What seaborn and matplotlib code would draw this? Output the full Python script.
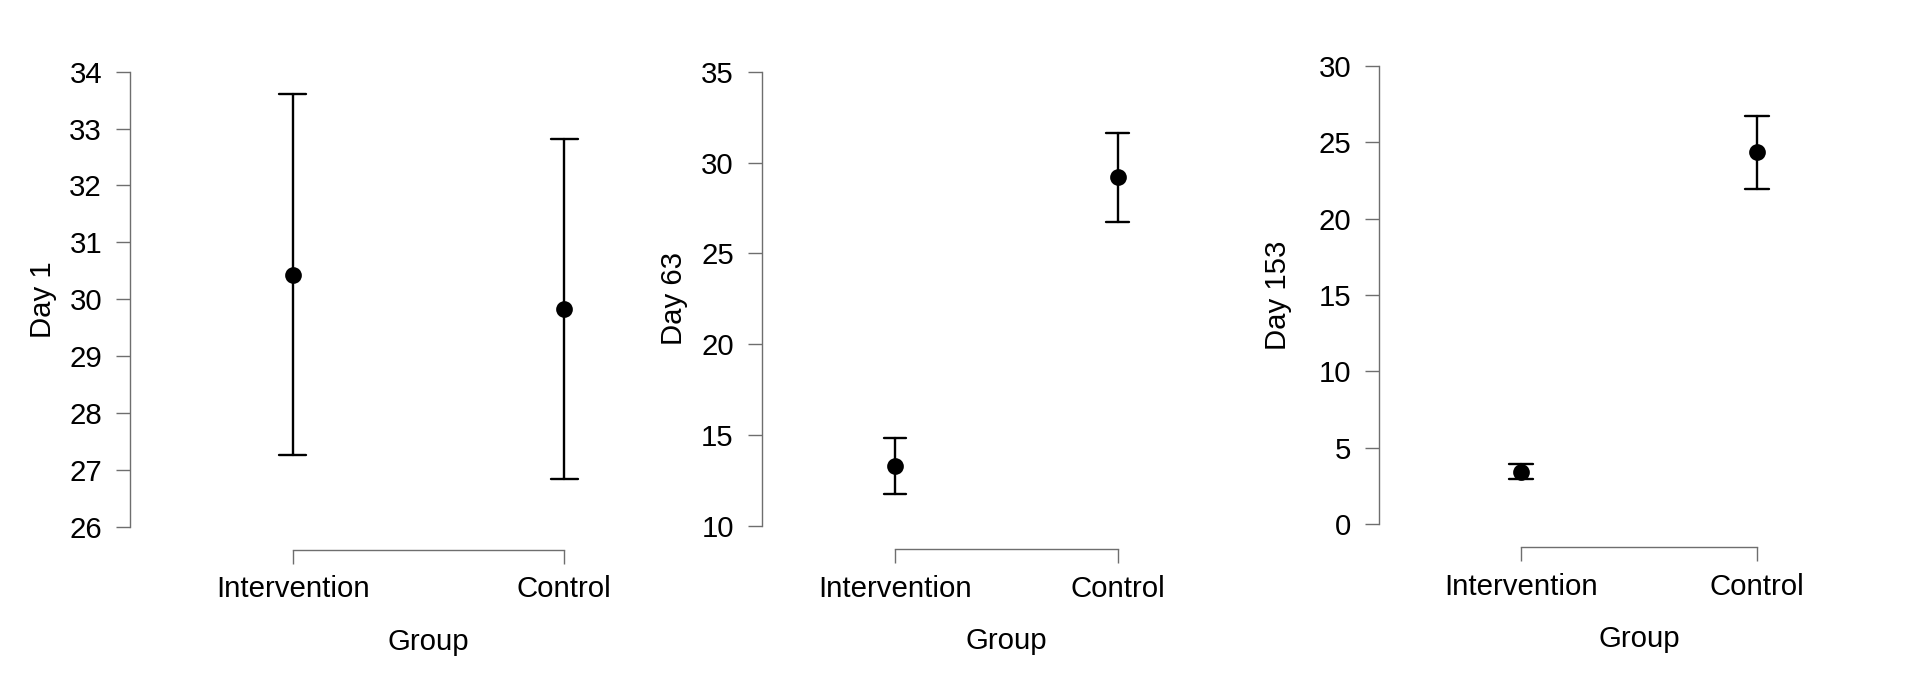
import numpy as np
import pandas as pd
import matplotlib
matplotlib.use("Agg")
import matplotlib.pyplot as plt
import seaborn as sns

groups = ["Intervention", "Control"]

day1_mean = [30.43, 29.82]
day1_lower = [27.26, 26.84]
day1_upper = [33.60, 32.81]

day63_mean = [13.28, 29.19]
day63_lower = [11.76, 26.75]
day63_upper = [14.84, 31.61]

day153_mean = [3.43, 24.34]
day153_lower = [2.95, 21.96]
day153_upper = [3.93, 26.71]

panel_labels = ["Day 1", "Day 63", "Day 153"]
yticks_list = [list(range(26, 35, 1)), list(range(10, 36, 5)), list(range(0, 31, 5))]

sns.set_style("white")
plt.rcParams['font.family'] = ['Liberation Sans', 'DejaVu Sans']

W, H = 1915, 684
fig = plt.figure(figsize=(W / 100, H / 100), dpi=100)

# axes rectangles in pixels: (left, top, right, bottom)
rects_px = [
    (129.8, 71.7, 727.0, 526.7),
    (761.6, 71.7, 1251.1, 526.0),
    (1379.4, 65.7, 1898.5, 524.3),
]
ylabel_x = [-0.1226, -0.1506, -0.1690]

series = [
    (day1_mean, day1_lower, day1_upper),
    (day63_mean, day63_lower, day63_upper),
    (day153_mean, day153_lower, day153_upper),
]

spine_col = "#6e6e6e"
FS = 21.2

for i, ((m, lo, hi), lab, yt, r) in enumerate(zip(series, panel_labels, yticks_list, rects_px)):
    l, t, rr, b = r
    ax = fig.add_axes([l / W, (H - b) / H, (rr - l) / W, (b - t) / H])
    rows = []
    for g, mm, ll, hh in zip(groups, m, lo, hi):
        for v in (ll, mm, hh):
            rows.append({"Group": g, "value": v})
    df = pd.DataFrame(rows)
    sns.pointplot(
        data=df, x="Group", y="value", order=groups,
        estimator=np.median,
        errorbar=lambda v: (np.min(v), np.max(v)),
        color="black", markers="o", linestyle="none",
        capsize=0.1, markersize=10,
        err_kws={"linewidth": 1.7, "color": "black"},
        ax=ax,
    )
    for coll in ax.collections:
        coll.set_clip_on(False)
    for ln in ax.lines:
        ln.set_clip_on(False)
    ax.set_xlim(-0.6, 1.6)
    ax.set_ylim(yt[0], yt[-1])
    ax.set_yticks(yt)
    ax.set_yticklabels([str(v) for v in yt])
    ax.set_xticks([0, 1])
    ax.set_xticklabels(groups)

    for s in ["top", "right"]:
        ax.spines[s].set_visible(False)
    for s in ["left", "bottom"]:
        ax.spines[s].set_color(spine_col)
        ax.spines[s].set_linewidth(1.0)
    ax.spines["bottom"].set_position(("outward", 16.5))
    ax.spines["bottom"].set_bounds(0, 1)
    ax.spines["left"].set_bounds(yt[0], yt[-1])

    ax.tick_params(axis="both", direction="out", length=10, width=1.0,
                   color=spine_col, labelsize=FS, labelcolor="black")
    ax.tick_params(axis="y", pad=10)
    ax.tick_params(axis="x", pad=8.5)
    ax.tick_params(left=True, bottom=True)

    ax.set_ylabel(lab, fontsize=FS, color="black")
    ax.yaxis.set_label_coords(ylabel_x[i], 0.5)
    ax.set_xlabel("Group", fontsize=FS, color="black", labelpad=17.5)
    ax.set_facecolor("white")
    ax.grid(False)

fig.savefig("out.png", dpi=100, facecolor="white")
